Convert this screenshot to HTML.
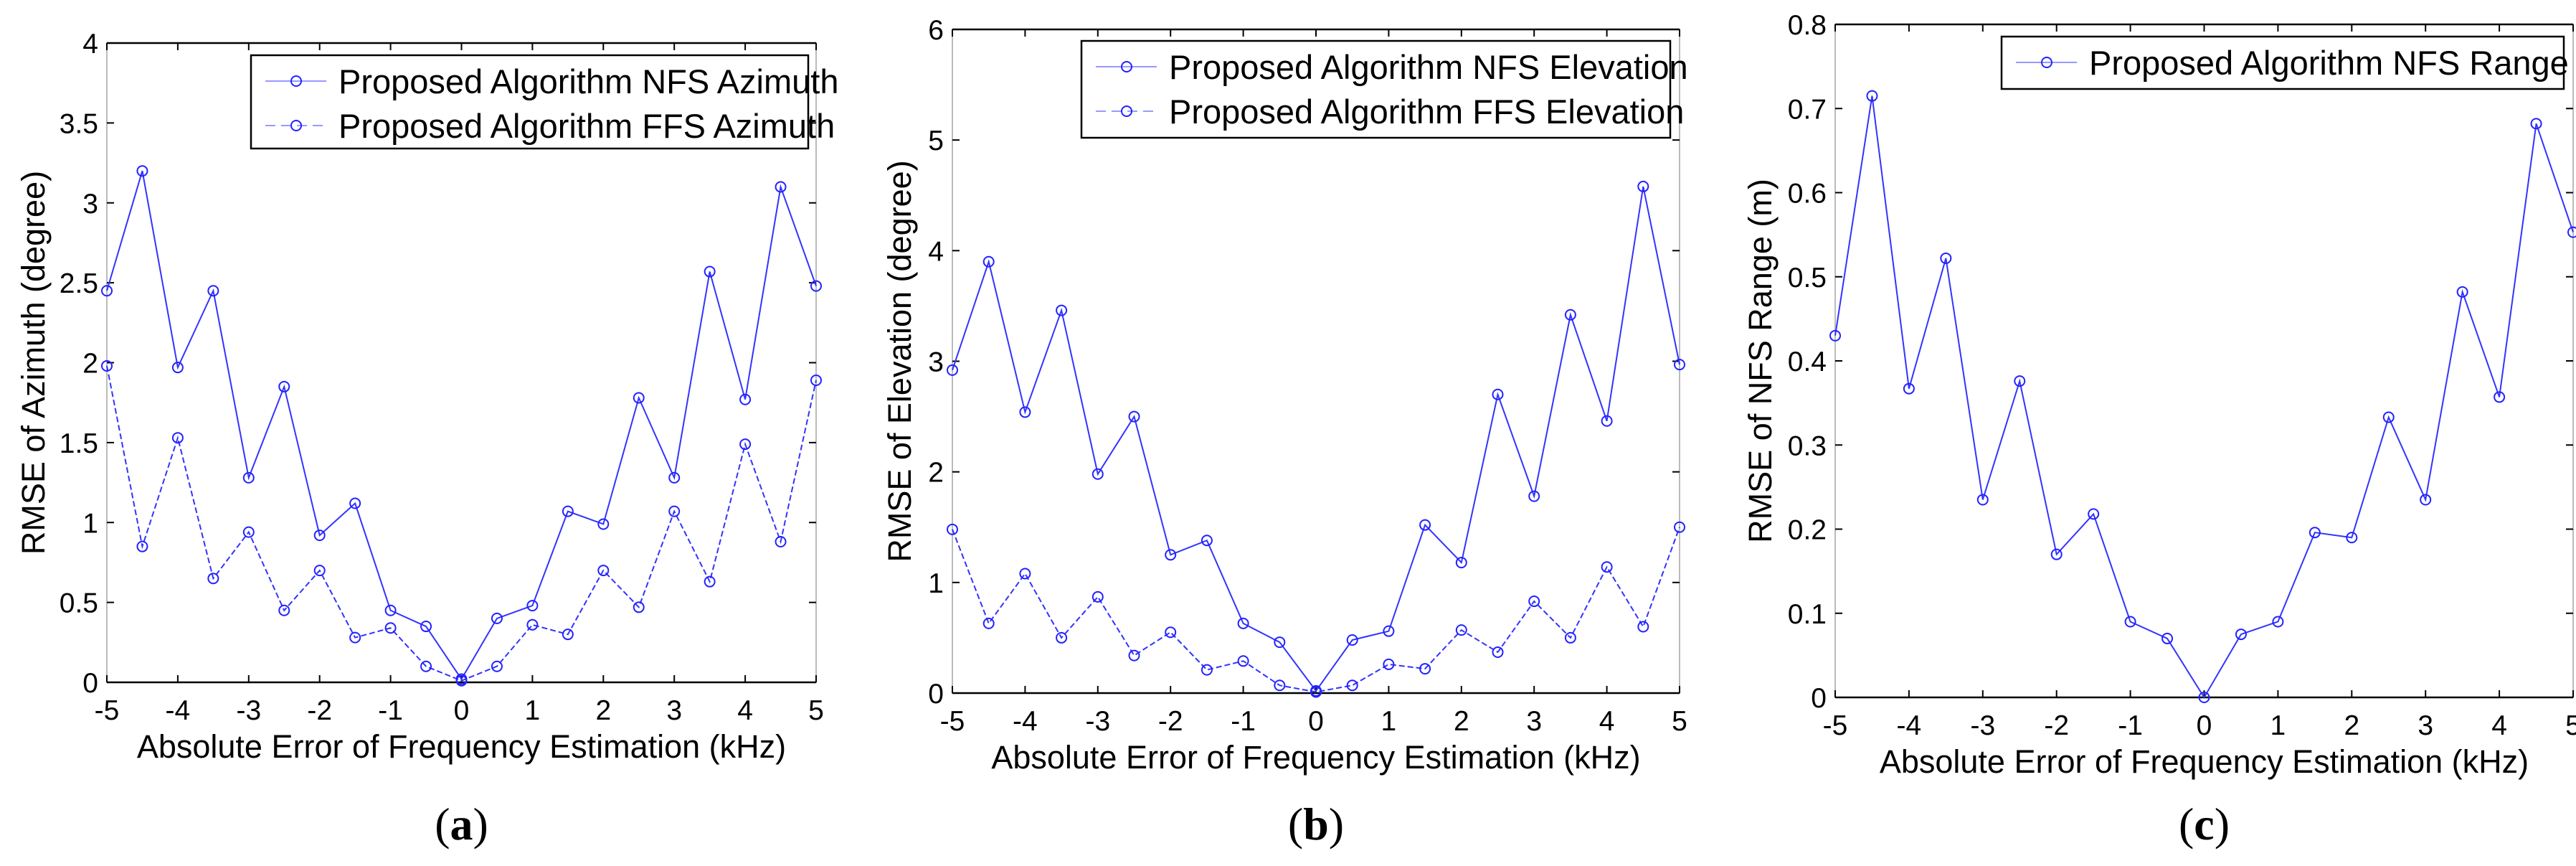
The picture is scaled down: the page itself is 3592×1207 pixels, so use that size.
<!DOCTYPE html>
<html><head><meta charset="utf-8"><style>
body{margin:0;background:#fff;width:3592px;height:1202px;overflow:hidden}
svg text{font-family:"Liberation Sans",Arial,sans-serif;fill:#000}
svg text.cap{font-family:"Liberation Serif",serif}
</style></head><body>
<svg id="s" width="3592" height="1202" xmlns="http://www.w3.org/2000/svg"></svg>
<script>
const xVals=[-5,-4.5,-4,-3.5,-3,-2.5,-2,-1.5,-1,-0.5,0,0.5,1,1.5,2,2.5,3,3.5,4,4.5,5];
const xTicks=[-5,-4,-3,-2,-1,0,1,2,3,4,5];
const azNFS=[2.45,3.2,1.97,2.45,1.28,1.85,0.92,1.12,0.45,0.35,0.02,0.4,0.48,1.07,0.99,1.78,1.28,2.57,1.77,3.1,2.48];
const azFFS=[1.98,0.85,1.53,0.65,0.94,0.45,0.7,0.28,0.34,0.1,0.01,0.1,0.36,0.3,0.7,0.47,1.07,0.63,1.49,0.88,1.89];
const elNFS=[2.92,3.9,2.54,3.46,1.98,2.5,1.25,1.38,0.63,0.46,0.02,0.48,0.56,1.52,1.18,2.7,1.78,3.42,2.46,4.58,2.97];
const elFFS=[1.48,0.63,1.08,0.5,0.87,0.34,0.55,0.21,0.29,0.07,0.01,0.07,0.26,0.22,0.57,0.37,0.83,0.5,1.14,0.6,1.5];
const rgNFS=[0.43,0.715,0.367,0.522,0.235,0.376,0.17,0.218,0.09,0.07,0.0,0.075,0.09,0.196,0.19,0.333,0.235,0.482,0.357,0.682,0.553];
const azTicks=["0","0.5","1","1.5","2","2.5","3","3.5","4"];
const elTicks=["0","1","2","3","4","5","6"];
const rgTicks=["0","0.1","0.2","0.3","0.4","0.5","0.6","0.7","0.8"];
const NS="http://www.w3.org/2000/svg",svg=document.getElementById('s');
function mk(t,a,p){const e=document.createElementNS(NS,t);for(const k in a)e.setAttribute(k,a[k]);(p||svg).appendChild(e);return e;}
function panel(o){
 const g=mk('g',{});
 
 
 const X=v=>o.l+(v+5)/10*(o.r-o.l), Y=v=>o.b-(v-o.y0)/(o.y1-o.y0)*(o.b-o.t);
 mk('rect',{x:o.l,y:o.t,width:o.r-o.l,height:o.b-o.t,fill:'none',stroke:'#bbb','stroke-width':2},g);
 mk('line',{x1:o.l,y1:o.t,x2:o.r,y2:o.t,stroke:'#000','stroke-width':2.5},g);
 mk('line',{x1:o.l,y1:o.b,x2:o.r,y2:o.b,stroke:'#000','stroke-width':2.5},g);
 xTicks.forEach(v=>{const x=X(v);
  mk('line',{x1:x,y1:o.b,x2:x,y2:o.b-10,stroke:'#000','stroke-width':2},g);
  mk('line',{x1:x,y1:o.t,x2:x,y2:o.t+10,stroke:'#000','stroke-width':2},g);
  const t=mk('text',{x:x,y:o.b+52,'font-size':39,'text-anchor':'middle'},g);t.textContent=v;
  
  });
 o.ticks.forEach(s=>{const v=parseFloat(s),y=Y(v);
  mk('line',{x1:o.l,y1:y,x2:o.l+10,y2:y,stroke:'#000','stroke-width':2},g);
  mk('line',{x1:o.r,y1:y,x2:o.r-10,y2:y,stroke:'#000','stroke-width':2},g);
  const t=mk('text',{x:o.l-12,y:y+14,'font-size':39,'text-anchor':'end'},g);t.textContent=s;
  
  });
 o.series.forEach((d,si)=>{
  const pts=d.map((v,i)=>X(xVals[i])+','+Y(v)).join(' ');
  const pl=mk('polyline',{points:pts,fill:'none',stroke:'#3333ff','stroke-width':2,'stroke-dasharray':si?'8 4':'none'},g);
  
  
  d.forEach((v,i)=>{const c=mk('circle',{cx:X(xVals[i]),cy:Y(v),r:7,fill:'none',stroke:'#2222ff','stroke-width':2},g);
   
   });
 });
 const lg=mk('g',{},g);
 
 
 mk('rect',{x:o.lg[0],y:o.lg[1],width:o.lg[2]-o.lg[0],height:o.lg[3]-o.lg[1],fill:'#fff',stroke:'#000','stroke-width':2.5},lg);
 o.labels.forEach((s,i)=>{const y=o.lg[1]+36+i*62;
  mk('line',{x1:o.lg[0]+20,y1:y,x2:o.lg[0]+105,y2:y,stroke:'#99f','stroke-width':2,'stroke-dasharray':i?'14 8':'none'},lg);
  mk('circle',{cx:o.lg[0]+63,cy:y,r:7,fill:'none',stroke:'#2222ff','stroke-width':2},lg);
  const t=mk('text',{x:o.lg[0]+122,y:y+17,'font-size':47},lg);t.textContent=s;
  
  });
 const xt=mk('text',{x:(o.l+o.r)/2,y:o.b+105,'font-size':45,'text-anchor':'middle'},g);xt.textContent='Absolute Error of Frequency Estimation (kHz)';
 
 
 const yc=(o.t+o.b)/2,yt=mk('text',{x:o.yx,y:yc,'font-size':45,'text-anchor':'middle',transform:`rotate(-90 ${o.yx} ${yc})`},g);yt.textContent=o.ytitle;
 
 
 const cp=mk('text',{x:(o.l+o.r)/2,y:1170,'font-size':64,'text-anchor':'middle','class':'cap'},g);
 cp.innerHTML='(<tspan font-weight="bold">'+o.cap+'</tspan>)';
 
 
}
panel({name:'azimuth-chart',l:149,r:1138,t:60,b:951,y0:0,y1:4,ticks:azTicks,series:[azNFS,azFFS],lg:[350,77,1127,207],labels:['Proposed Algorithm NFS Azimuth','Proposed Algorithm FFS Azimuth'],ytitle:'RMSE of Azimuth (degree)',yx:62,cap:'a'});
panel({name:'elevation-chart',l:1328,r:2342,t:41,b:966,y0:0,y1:6,ticks:elTicks,series:[elNFS,elFFS],lg:[1508,57,2329,192],labels:['Proposed Algorithm NFS Elevation','Proposed Algorithm FFS Elevation'],ytitle:'RMSE of Elevation (degree)',yx:1270,cap:'b'});
panel({name:'range-chart',l:2559,r:3588,t:34,b:972,y0:0,y1:0.8,ticks:rgTicks,series:[rgNFS],lg:[2791,51,3575,124],labels:['Proposed Algorithm NFS Range'],ytitle:'RMSE of NFS Range (m)',yx:2470,cap:'c'});
</script>
</body></html>
